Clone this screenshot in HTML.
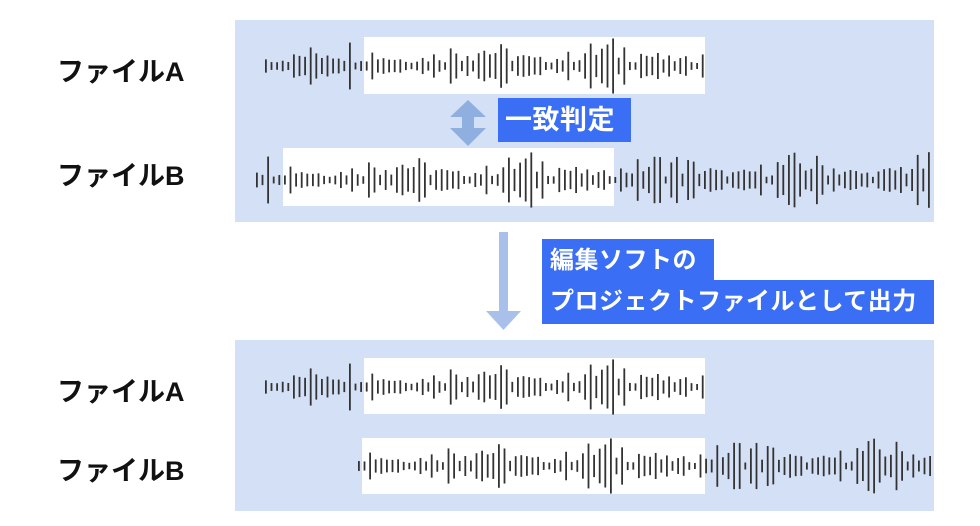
<!DOCTYPE html>
<html><head><meta charset="utf-8">
<style>
body{margin:0;width:980px;height:526px;background:#fff;position:relative;overflow:hidden;font-family:"Liberation Sans","Noto Sans CJK JP",sans-serif}
.panel{position:absolute;left:235px;width:699px;background:#d4e0f5}
.wb{position:absolute;background:#fff}
.lab{position:absolute;left:57px;font-weight:bold;font-size:27px;color:#111;line-height:1}
.tag{position:absolute;background:#3a6ef5;color:#fff;font-weight:bold;font-size:24px;letter-spacing:0.5px;line-height:1;white-space:nowrap;overflow:hidden}
svg{position:absolute;left:0;top:0}
</style></head><body>
<div class="panel" style="top:20px;height:202px"></div>
<div class="panel" style="top:340px;height:171px"></div>
<div class="wb" style="left:364px;top:37px;width:341px;height:57px"></div>
<div class="wb" style="left:283px;top:148px;width:331px;height:58px"></div>
<div class="wb" style="left:364px;top:358px;width:341px;height:56px"></div>
<div class="wb" style="left:362px;top:438px;width:343px;height:56px"></div>
<div class="lab" style="top:59px">ファイルA</div>
<div class="lab" style="top:163px">ファイルB</div>
<div class="lab" style="top:379px">ファイルA</div>
<div class="lab" style="top:458px">ファイルB</div>
<div class="tag" style="left:498px;top:98px;width:133px;height:44px;padding-left:7px;box-sizing:border-box;line-height:44px;font-size:27px">一致判定</div>
<div class="tag" style="left:542px;top:239px;width:172px;height:42px;padding-left:8px;box-sizing:border-box;line-height:44px">編集ソフトの</div>
<div class="tag" style="left:542px;top:280px;width:392px;height:44px;padding-left:8px;box-sizing:border-box;line-height:44px">プロジェクトファイルとして出力</div>
<svg id="s" width="980" height="526">
<polygon points="468,100 486,117 474,117 474,128 486,128 468,146 450,128 462,128 462,117 450,117" fill="#8eafe0"/>
<rect x="499" y="232" width="9" height="80" fill="#a9c1ea"/>
<polygon points="486,311 521,311 503.5,330" fill="#a9c1ea"/>
</svg>
<script>
var s=document.getElementById('s'),ns='http://www.w3.org/2000/svg';
function amp(t){var seed=Math.sin(t*12.9898)*43758.5453;var r=seed-Math.floor(seed);
var env=0.25+0.75*Math.pow(Math.abs(Math.sin(t*0.13)),2);return 3+r*26*env;}
function row(cy,x0,x1,off){for(var x=x0;x<=x1;x+=5.6){var t=Math.round((x-off)/5.6);var a=amp(t);
var l=document.createElementNS(ns,'rect');l.setAttribute('x',x);l.setAttribute('y',cy-a);l.setAttribute('width',1.8);l.setAttribute('height',2*a);l.setAttribute('fill','#333');s.appendChild(l);}}
row(66,265,705,0);
row(180,256,930,-81);
row(387,265,705,0);
row(466,358,930,-2);
</script>
</body></html>
